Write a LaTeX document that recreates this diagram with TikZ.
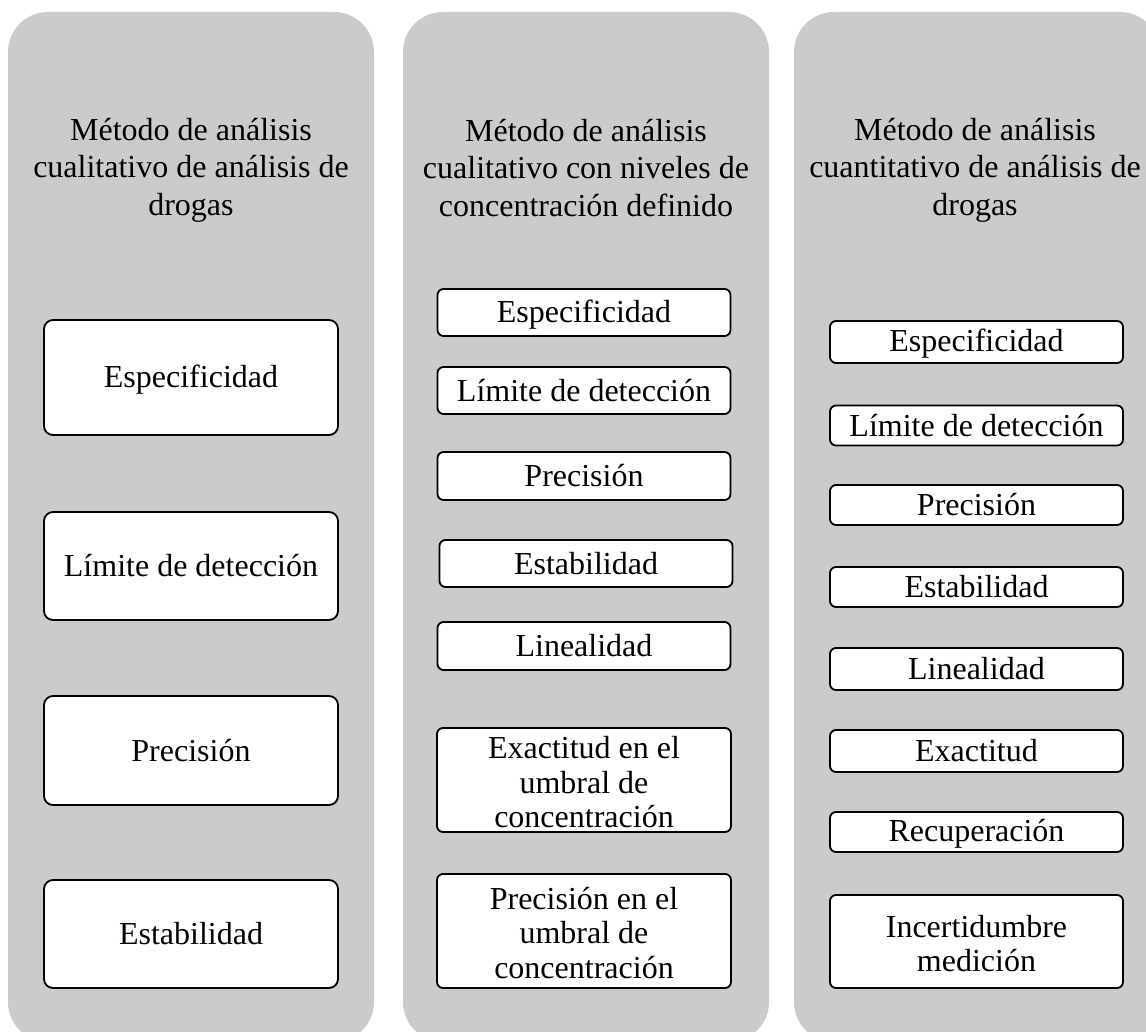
\documentclass[tikz,border=0pt]{standalone}
\usepackage{fontspec}
\setmainfont{Liberation Serif}
% fixed-height struts so that every label sits at the same optical height
\newcommand{\topstrut}{\rule{0pt}{26pt}}
\newcommand{\botstrut}{\rule[-5pt]{0pt}{5pt}}
\begin{document}
\begin{tikzpicture}[x=1pt,y=-1pt,
  column/.style={fill=colgray,rounded corners=40pt},
  head/.style={align=center,font=\fontsize{32}{37.5}\selectfont,inner sep=0pt,
    execute at begin node=\topstrut,execute at end node=\botstrut},
  label text/.style={align=center,font=\fontsize{32}{34.5}\selectfont,inner sep=0pt,
    execute at begin node=\topstrut,execute at end node=\botstrut},
  item/.style={label text,draw=black,line width=1.8pt,fill=white,rounded corners=9pt},
  smallitem/.style={item,rounded corners=6pt}]
\definecolor{colgray}{HTML}{CBCBCB}
\useasboundingbox (0,0) rectangle (1146,1032);
\clip (0,0) rectangle (1146,1032);

% grey columns
\fill[column] (8,12) rectangle (374,1042);
\fill[column] (403,12) rectangle (769,1042);
\fill[column] (794,12) rectangle (1160,1042);

% column headings
\node[head] (h1) at (191,170) {Método de análisis\\cualitativo de análisis de\\drogas};
\node[head] (h2) at (586,170) {Método de análisis\\cualitativo con niveles de\\concentración definido};
\node[head] (h3) at (975,170) {Método de análisis\\cuantitativo de análisis de\\drogas};

% first column
\node[item,minimum width=294pt,minimum height=115pt] (a1) at (191,377.5) {Especificidad};
\node[item,minimum width=294pt,minimum height=108pt] (a2) at (191,566) {Límite de detección};
\node[item,minimum width=294pt,minimum height=109pt] (a3) at (191,750.5) {Precisión};
\node[item,minimum width=294pt,minimum height=108pt] (a4) at (191,934) {Estabilidad};

% second column
\node[smallitem,minimum width=293pt,minimum height=47pt] (b1) at (584,312.5) {Especificidad};
\node[smallitem,minimum width=293pt,minimum height=47pt] (b2) at (584,390.5) {Límite de detección};
\node[smallitem,minimum width=293pt,minimum height=48pt] (b3) at (584,476) {Precisión};
\node[smallitem,minimum width=293pt,minimum height=47pt] (b4) at (586,563.5) {Estabilidad};
\node[smallitem,minimum width=293pt,minimum height=48pt] (b5) at (584,646) {Linealidad};
% multi-line boxes: frame first, text set slightly below the frame's centre
\node[smallitem,minimum width=294pt,minimum height=104pt] (b6) at (584,780) {};
\node[label text] (b6t) at (584,784.5) {Exactitud en el\\umbral de\\concentración};
\node[smallitem,minimum width=294pt,minimum height=114pt] (b7) at (584,931) {};
\node[label text] (b7t) at (584,935) {Precisión en el\\umbral de\\concentración};

% third column
\node[smallitem,minimum width=293pt,minimum height=42pt] (c1) at (976.5,342) {Especificidad};
\node[smallitem,minimum width=293pt,minimum height=40pt] (c2) at (976.5,425.5) {Límite de detección};
\node[smallitem,minimum width=293pt,minimum height=40pt] (c3) at (976.5,505) {Precisión};
\node[smallitem,minimum width=293pt,minimum height=40pt] (c4) at (976.5,587) {Estabilidad};
\node[smallitem,minimum width=293pt,minimum height=42pt] (c5) at (976.5,669) {Linealidad};
\node[smallitem,minimum width=293pt,minimum height=42pt] (c6) at (976.5,751) {Exactitud};
\node[smallitem,minimum width=293pt,minimum height=40pt] (c7) at (976.5,832) {Recuperación};
\node[smallitem,minimum width=293pt,minimum height=93pt] (c8) at (976.5,941.5) {};
\node[label text] (c8t) at (976.5,946) {Incertidumbre\\medición};
\end{tikzpicture}
\end{document}
